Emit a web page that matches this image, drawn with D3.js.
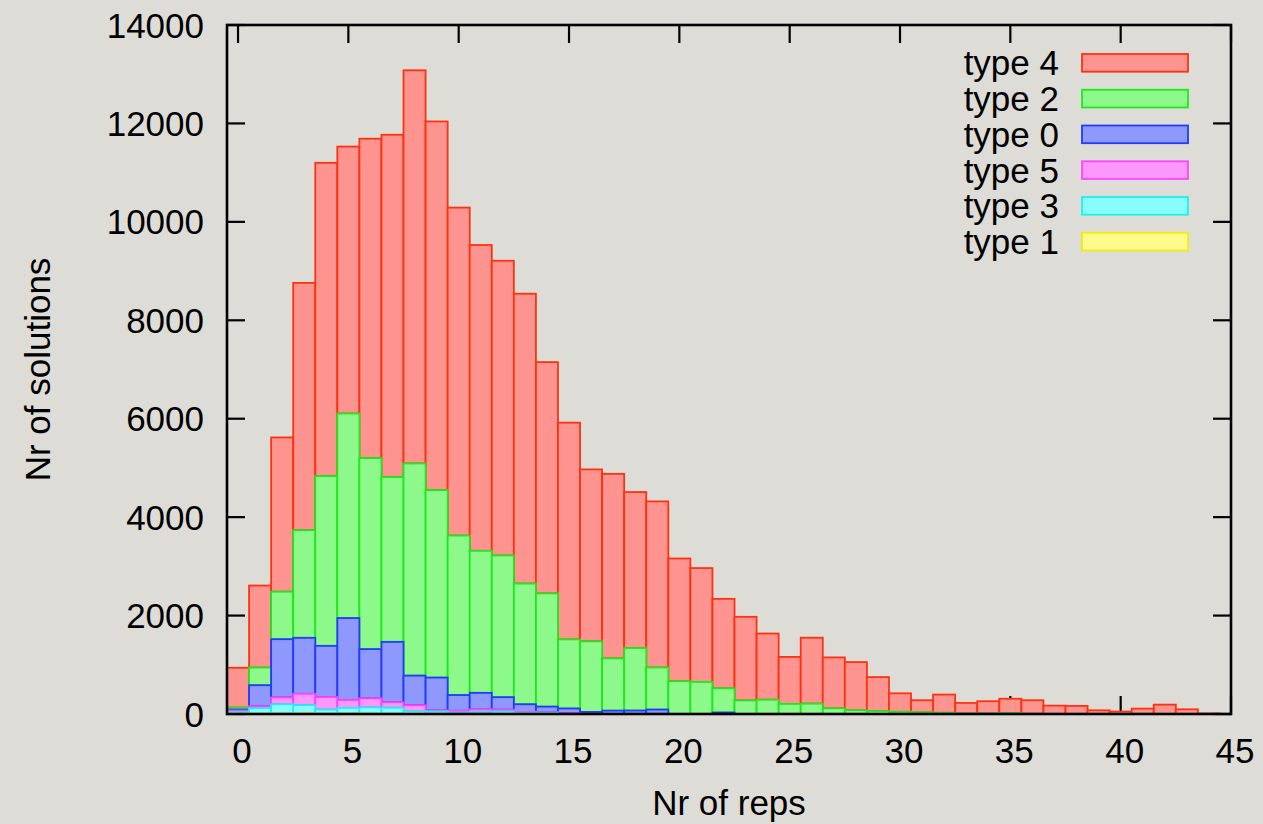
<!DOCTYPE html>
<html>
<head>
<meta charset="utf-8">
<script src="https://cdn.jsdelivr.net/npm/d3@7"></script>
<style>
  html, body { margin: 0; padding: 0; background: #dedcd7; }
  svg { display: block; }
  text { font-family: "Liberation Sans", Arial, Helvetica, sans-serif; fill: #000; }
</style>
</head>
<body>
<svg id="chart" width="1263" height="824"></svg>
<script>
// ---- data ----
const reps = [0,1,2,3,4,5,6,7,8,9,10,11,12,13,14,15,16,17,18,19,20,21,22,23,24,25,26,27,28,29,30,31,32,33,34,35,36,37,38,39,40,41,42,43,44];

const type4 = [810,1667,3135,5025,6365,5425,6490,6955,7990,7490,6665,6215,5990,5890,4700,4405,3495,3750,3170,3375,2495,2313,1818,1700,1345,955,1340,1035,980,690,375,245,370,215,250,290,275,170,165,75,50,110,190,95,10];
const type2 = [40,358,965,2187,3450,4155,3882,3349,4310,3810,3240,2885,2878,2452,2300,1403,1433,1062,1270,855,665,652,492,275,290,205,210,115,75,60,45,35,25,10,10,20,5,0,0,0,0,0,0,0,0];
const type0 = [20,425,1185,1138,1040,1665,998,1226,603,665,320,338,254,156,115,97,42,68,70,90,0,0,30,0,0,0,0,0,0,0,0,0,0,0,0,0,0,0,0,0,0,0,0,0,0];
const type5 = [30,40,137,230,255,160,185,112,122,25,35,52,38,17,10,15,0,0,0,0,0,0,0,0,0,0,0,0,0,0,0,0,0,0,0,0,0,0,0,0,0,0,0,0,0];
const type3 = [35,115,188,160,85,115,130,123,55,50,30,40,50,25,25,0,0,0,0,0,0,0,0,0,0,0,0,0,0,0,0,0,0,0,0,0,0,0,0,0,0,0,0,0,0];
const type1 = [5,5,10,20,5,10,5,5,0,0,0,0,0,0,0,0,0,0,0,0,0,0,0,0,0,0,0,0,0,0,0,0,0,0,0,0,0,0,0,0,0,0,0,0,0];

const xTicks = [0,5,10,15,20,25,30,35,40,45];
const yTicks = [0,2000,4000,6000,8000,10000,12000,14000];

// legend order (drawing order: top of stack first)
const legendKeys = ["type 4","type 2","type 0","type 5","type 3","type 1"];
const stackKeys = ["type 1","type 3","type 5","type 0","type 2","type 4"];
const seriesValues = {"type 4": type4, "type 2": type2, "type 0": type0, "type 5": type5, "type 3": type3, "type 1": type1};
const fills = {"type 4":"#fd948f","type 2":"#8ef98b","type 0":"#8f98fc","type 5":"#fd97fc","type 3":"#88fdfc","type 1":"#fdfb8c"};
const strokes = {"type 4":"#ff3210","type 2":"#1ee91e","type 0":"#1f3cff","type 5":"#ff44ff","type 3":"#1ff0f0","type 1":"#f2ea10"};

// ---- layout ----
const L = 227, R = 1231, T = 25, B = 714;
const svg = d3.select("#chart");

const x = d3.scaleLinear().domain([-0.5, 45]).range([L, R]);
const y = d3.scaleLinear().domain([0, 14000]).range([B, T]);

const table = reps.map((r, i) => {
  const row = {rep: r};
  stackKeys.forEach(k => row[k] = seriesValues[k][i]);
  return row;
});
const stacked = d3.stack().keys(stackKeys)(table);

const FS = 35;

// ticks (behind bars)
const tickLen = 18;
const tg = svg.append("g").attr("stroke", "#000").attr("stroke-width", 2.2);
xTicks.forEach(t => {
  tg.append("line").attr("x1", x(t)).attr("x2", x(t)).attr("y1", B).attr("y2", B - tickLen);
  tg.append("line").attr("x1", x(t)).attr("x2", x(t)).attr("y1", T).attr("y2", T + tickLen);
});
yTicks.forEach(t => {
  tg.append("line").attr("x1", L).attr("x2", L + tickLen).attr("y1", y(t)).attr("y2", y(t));
  tg.append("line").attr("x1", R).attr("x2", R - tickLen).attr("y1", y(t)).attr("y2", y(t));
});

// bars: draw top series first so lower series' outlines sit on top
const drawOrder = stacked.slice().reverse();
drawOrder.forEach(s => {
  svg.append("g")
    .attr("fill", fills[s.key])
    .attr("stroke", strokes[s.key])
    .attr("stroke-width", 1.8)
    .selectAll("rect")
    .data(s.filter(d => d[1] - d[0] > 0))
    .join("rect")
    .attr("x", d => x(d.data.rep - 0.5))
    .attr("width", d => x(d.data.rep + 0.5) - x(d.data.rep - 0.5))
    .attr("y", d => y(d[1]))
    .attr("height", d => y(d[0]) - y(d[1]));
});

// frame
svg.append("rect")
  .attr("x", L).attr("y", T).attr("width", R - L).attr("height", B - T)
  .attr("fill", "none").attr("stroke", "#000").attr("stroke-width", 2.6);

// tick labels
svg.append("g").selectAll("text").data(xTicks).join("text")
  .attr("x", d => x(d) + 4).attr("y", 763)
  .attr("text-anchor", "middle").attr("font-size", FS)
  .text(d => d);

svg.append("g").selectAll("text").data(yTicks).join("text")
  .attr("x", 204).attr("y", d => y(d)).attr("dy", "0.36em")
  .attr("text-anchor", "end").attr("font-size", FS)
  .text(d => d);

// axis titles
svg.append("text").attr("x", (L + R) / 2).attr("y", 815)
  .attr("text-anchor", "middle").attr("font-size", FS).text("Nr of reps");
svg.append("text").attr("transform", `translate(50, ${(T + B) / 2}) rotate(-90)`)
  .attr("text-anchor", "middle").attr("font-size", FS).text("Nr of solutions");

// legend
const lg = svg.append("g");
legendKeys.forEach((k, i) => {
  const yTop = 54 + i * 35.75;
  lg.append("rect").attr("x", 1082).attr("y", yTop).attr("width", 106).attr("height", 17.7)
    .attr("fill", fills[k]).attr("stroke", strokes[k]).attr("stroke-width", 1.8);
  lg.append("text").attr("x", 1059).attr("y", yTop + 8.85).attr("dy", "0.36em")
    .attr("text-anchor", "end").attr("font-size", FS).text(k);
});
</script>
</body>
</html>
